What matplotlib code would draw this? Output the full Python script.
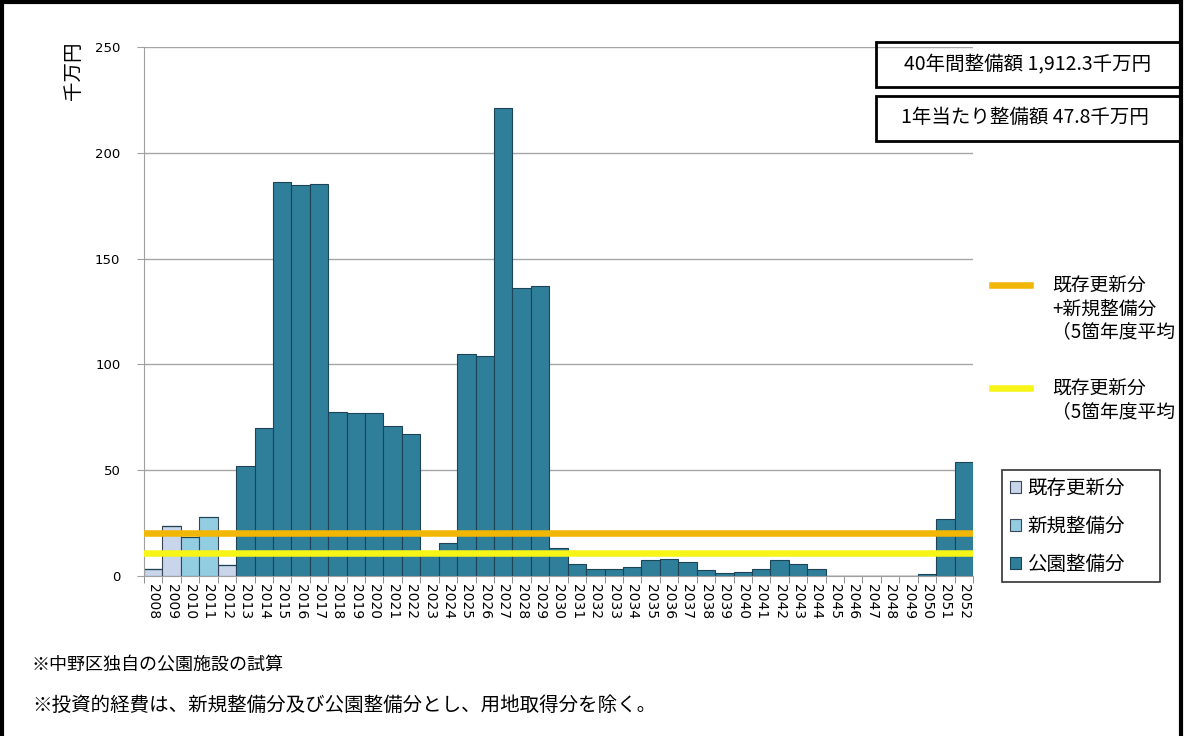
import matplotlib
matplotlib.use('Agg')
import matplotlib.pyplot as plt
import numpy as np
from matplotlib.lines import Line2D
from matplotlib.patches import Rectangle

plt.rcParams['font.family'] = ['Noto Sans CJK JP', 'DejaVu Sans']

# data (千万円)
years = list(range(2008, 2053))
existing = [3.3, 23.8, 0, 0, 5.0,
            0, 0, 0, 0, 0, 0, 0, 0, 0, 0,
            0, 0, 0, 0, 0, 0, 0, 0, 0, 0,
            0, 0, 0, 0, 0, 0, 0, 0, 0, 0,
            0, 0, 0, 0, 0, 0, 0, 0, 0, 0]
new_dev = [0, 0, 18.3, 28.0, 0,
           0, 0, 0, 0, 0, 0, 0, 0, 0, 0,
           0, 0, 0, 0, 0, 0, 0, 0, 0, 0,
           0, 0, 0, 0, 0, 0, 0, 0, 0, 0,
           0, 0, 0, 0, 0, 0, 0, 0, 0, 0]
park = [0, 0, 0, 0, 0,
        52.0, 70.0, 186.0, 185.0, 185.5, 77.5, 77.0, 77.0, 71.0, 67.0,
        10.0, 15.5, 105.0, 104.0, 221.0, 136.0, 137.0, 13.4, 5.5, 3.2,
        3.2, 4.3, 7.6, 8.2, 6.8, 2.7, 1.4, 2.1, 3.5, 7.6,
        5.5, 3.5, 0, 0, 0, 0, 0, 0.8, 27.0, 54.0]
avg_total = 20.2      # 既存更新分+新規整備分 (5箇年度平均)
avg_existing = 10.7   # 既存更新分 (5箇年度平均)

fig = plt.figure(figsize=(11.84, 7.36), dpi=100)
ax = fig.add_axes([0.1216, 0.2174, 0.7002, 0.7187])

x = np.arange(len(years))
b1 = ax.bar(x, existing, width=1.0, color='#c8d5ea', edgecolor='#3a4656',
            linewidth=0.8, zorder=2)
b2 = ax.bar(x, new_dev, width=1.0, bottom=existing, color='#93cde2',
            edgecolor='#3a4656', linewidth=0.8, zorder=2)
base = np.array(existing) + np.array(new_dev)
b3 = ax.bar(x, park, width=1.0, bottom=base, color='#2f7f9b',
            edgecolor='#1d4357', linewidth=0.8, zorder=2)

l_total = ax.axhline(avg_total, color='#f2b705', lw=4.7, zorder=3)
l_exist = ax.axhline(avg_existing, color='#f7f418', lw=4.7, zorder=3)

ax.set_xlim(-0.5, len(years) - 0.5)
ax.set_ylim(0, 250)
ax.set_yticks(range(0, 251, 50))
ax.yaxis.grid(True, color='#a6a6a6', lw=1)
ax.set_axisbelow(True)
for s in ['top', 'right']:
    ax.spines[s].set_visible(False)
ax.spines['left'].set_color('#a0a0a0')
ax.spines['bottom'].set_color('#a0a0a0')

ax.set_xticks(x)
ax.set_xticklabels(years, rotation=-90, fontsize=10, family='DejaVu Sans')
ax.tick_params(axis='x', length=0, pad=6)
ax.set_xticks(np.arange(-0.5, len(years), 1), minor=True)
ax.tick_params(axis='x', which='minor', length=5, color='#808080')
ax.tick_params(axis='y', length=5, color='#a0a0a0', labelsize=9.5, pad=12)
for lbl in ax.get_yticklabels():
    lbl.set_family('DejaVu Sans')

ax.set_ylabel('千万円', fontsize=14)
ax.yaxis.set_label_coords(-0.072, 0.955)

# summary boxes
fig.add_artist(Rectangle((0.7399, 0.8818), 0.2568, 0.0611, transform=fig.transFigure,
                         fill=False, lw=2, ec='black'))
fig.add_artist(Rectangle((0.7399, 0.8084), 0.2568, 0.0611, transform=fig.transFigure,
                         fill=False, lw=2, ec='black'))
fig.text(0.868, 0.9117, '40年間整備額 1,912.3千万円', fontsize=14, ha='center', va='center')
fig.text(0.866, 0.8397, '1年当たり整備額 47.8千万円', fontsize=14, ha='center', va='center')

# line legends
blank = Line2D([], [], color='none')
fig.legend(handles=[l_total, blank, blank],
           labels=['既存更新分', '+新規整備分', '（5箇年度平均'],
           loc='upper left', bbox_to_anchor=(992 / 1184, 1 - 276 / 736),
           frameon=False, fontsize=13.5, handlelength=2.0, handletextpad=1.2,
           labelspacing=0.08, borderpad=0, borderaxespad=0)
fig.legend(handles=[l_exist, blank],
           labels=['既存更新分', '（5箇年度平均'],
           loc='upper left', bbox_to_anchor=(992 / 1184, 1 - 379 / 736),
           frameon=False, fontsize=13.5, handlelength=2.0, handletextpad=1.2,
           labelspacing=0.08, borderpad=0, borderaxespad=0)

# bar legend
leg = fig.legend(handles=[b1, b2, b3], labels=['既存更新分', '新規整備分', '公園整備分'],
                 loc='upper left', bbox_to_anchor=(0.8463, 0.209, 0.1335, 0.1524),
                 mode='expand', frameon=True, fancybox=False, edgecolor='black',
                 fontsize=14, handlelength=0.6, handleheight=0.6, handletextpad=0.3,
                 labelspacing=0.87, borderpad=0.4, borderaxespad=0)
leg.get_frame().set_linewidth(1.2)

# notes
fig.text(0.027, 0.0965, '※中野区独自の公園施設の試算', fontsize=13, va='center')
fig.text(0.027, 0.042, '※投資的経費は、新規整備分及び公園整備分とし、用地取得分を除く。',
         fontsize=14, va='center')

# outer frame
fig.add_artist(Rectangle((0.002, -0.05), 0.9955, 1.047, transform=fig.transFigure,
                         fill=False, lw=3, ec='black'))

fig.savefig('out.png', dpi=100)
